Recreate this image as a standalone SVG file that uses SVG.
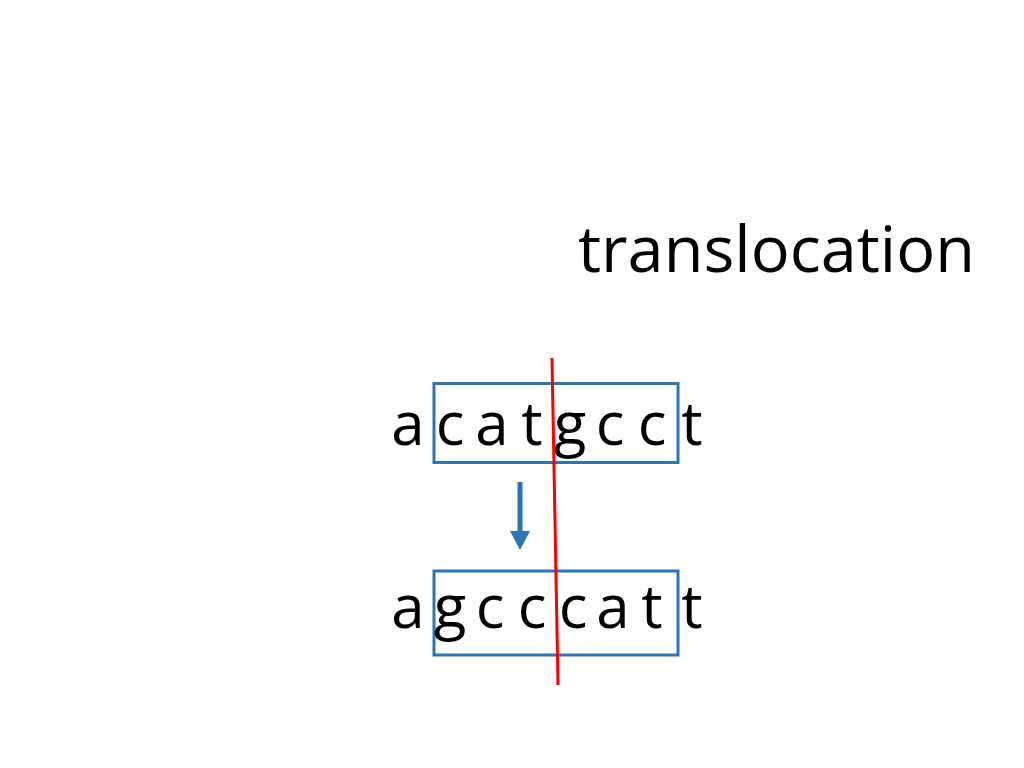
<svg xmlns="http://www.w3.org/2000/svg" width="1024" height="768" viewBox="0 0 1024 768">
<style>
.t{font-family:"Open Sans","Liberation Sans",sans-serif;fill:#000;}
.l{font-size:60px;text-anchor:middle;}
.box{fill:none;stroke:#2e75b6;stroke-width:3;}
</style>
<rect width="1024" height="768" fill="#fff"/>
<text id="title" class="t" x="578" y="272" font-size="64" textLength="397" lengthAdjust="spacingAndGlyphs">translocation</text>
<g id="top-seq">
<rect class="box" x="434" y="383.5" width="244" height="79"/>
<text class="t l" y="445"><tspan x="408">a</tspan><tspan x="450">c</tspan><tspan x="492">a</tspan><tspan x="532">t</tspan><tspan x="570">g</tspan><tspan x="610">c</tspan><tspan x="652">c</tspan><tspan x="692">t</tspan></text>
</g>
<g id="bottom-seq">
<rect class="box" x="434" y="571" width="244" height="84"/>
<text class="t l" y="628"><tspan x="408">a</tspan><tspan x="450">g</tspan><tspan x="490">c</tspan><tspan x="532">c</tspan><tspan x="573">c</tspan><tspan x="613">a</tspan><tspan x="652">t</tspan><tspan x="692">t</tspan></text>
</g>
<g id="connectors">
<line x1="520" y1="482" x2="520" y2="532" stroke="#2e75b6" stroke-width="5"/>
<polygon points="510,531 530,531 520,550" fill="#2e75b6"/>
<line x1="552" y1="358" x2="558" y2="685" stroke="#ff0000" stroke-width="3"/>
</g>
</svg>
